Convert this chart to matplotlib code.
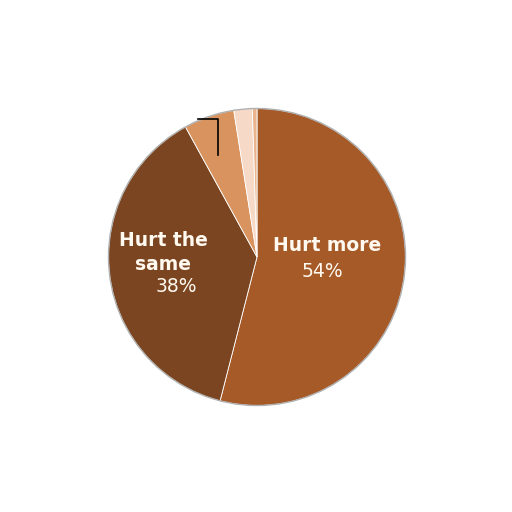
import matplotlib.pyplot as plt
from matplotlib.patches import Circle

labels = ['Hurt more', 'Hurt the same', 'Other 1', 'Other 2', 'Other 3']
values = [54, 38, 5.5, 2, 0.5]
colors = ['#A65A28', '#7A4520', '#D8935F', '#F6D9C6', '#E9B48E']

fig = plt.figure(figsize=(5.12, 5.12), dpi=100)
ax = fig.add_axes([107 / 512, 105 / 512, 300 / 512, 300 / 512])

ax.pie(values, colors=colors, startangle=90, counterclock=False, radius=1,
       wedgeprops=dict(edgecolor='white', linewidth=0.6))
ax.add_patch(Circle((0, 0), 1, fill=False, edgecolor='#B0B0B0', linewidth=1.0))

# labels
txt = '#FFF9F0'
ax.text(0.47, 0.08, 'Hurt more', color=txt, fontsize=13.5, fontweight='bold',
        ha='center', va='center')
ax.text(0.44, -0.10, '54%', color=txt, fontsize=13.5, ha='center', va='center')
ax.text(-0.63, 0.03, 'Hurt the\nsame', color=txt, fontsize=13.5, fontweight='bold',
        ha='center', va='center', linespacing=1.3)
ax.text(-0.54, -0.20, '38%', color=txt, fontsize=13.5, ha='center', va='center')

# leader line
ax.plot([-0.40, -0.26, -0.26], [0.93, 0.93, 0.69], color='black', linewidth=1.2)

ax.set_xlim(-1.01, 1.01)
ax.set_ylim(-1.01, 1.01)
ax.set_aspect('equal')
ax.axis('off')

fig.savefig('out.png', dpi=100)
